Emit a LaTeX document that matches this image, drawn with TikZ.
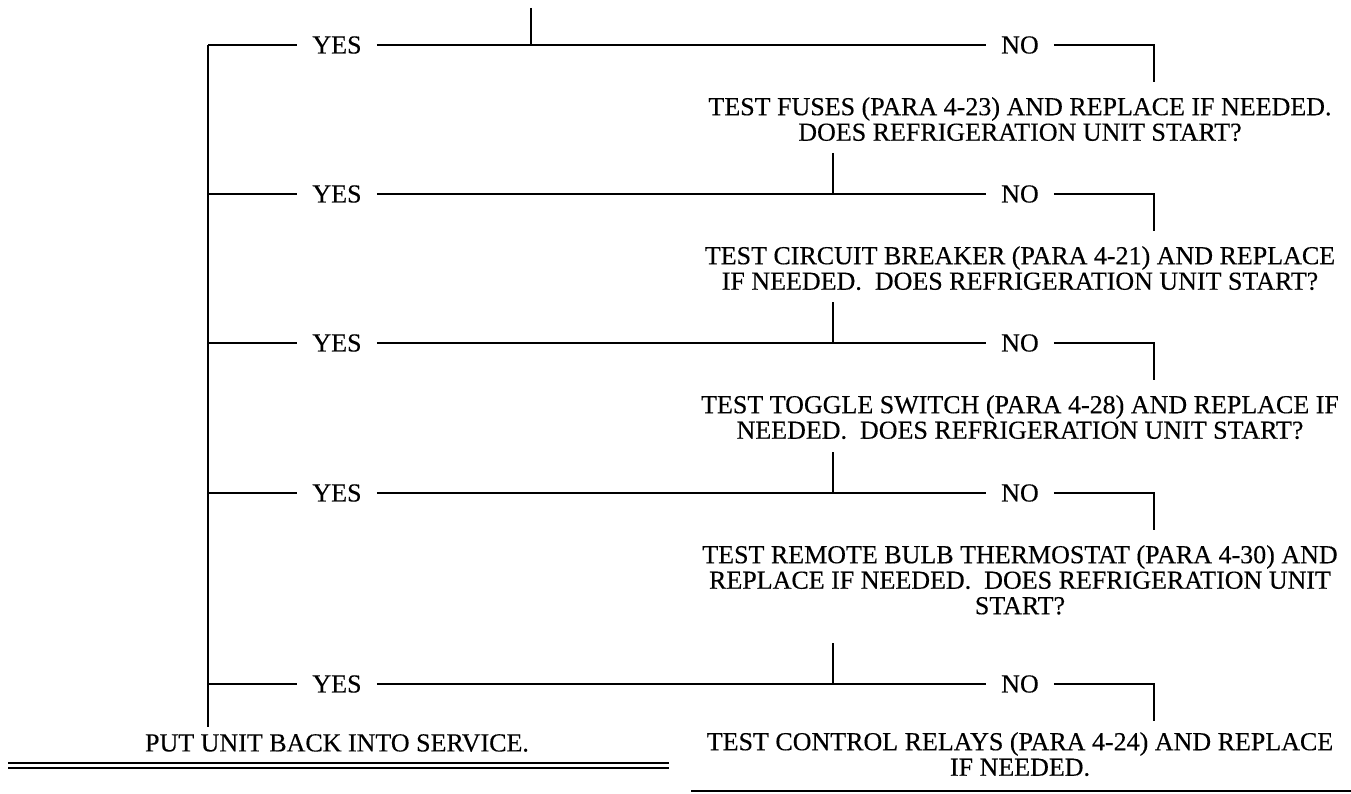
\documentclass[tikz,border=0pt]{standalone}
\usepackage{fontspec}
\setmainfont{Liberation Serif}[FakeBold=0.3]
\usetikzlibrary{positioning}
\newcommand{\chartfont}{\fontsize{26}{25.5}\selectfont}
\tikzset{
  flow/.style={line width=2.4pt,black},
  ans/.style={inner xsep=15pt,inner ysep=0pt,font=\chartfont},
  tbox/.style={align=center,inner sep=0pt,anchor=north,font=\chartfont},
  rule/.style={line width=1.6pt,black}
}

\begin{document}
\begin{tikzpicture}[x=1pt,y=-1pt]
\useasboundingbox (0,0) rectangle (1351,794);
\foreach \r/\y in {1/45,2/194,3/343,4/493,5/684}{
  \coordinate (rail\r) at (208,\y);
  \coordinate (drop\r) at (1154,\y+37);
  \node[ans] (yes\r) at (337,\y) {YES};
  \node[ans] (no\r) at (1020,\y) {NO};
}
\coordinate (stub1) at (531,8);
\coordinate (stub2) at (833,153);
\coordinate (stub3) at (833,302);
\coordinate (stub4) at (833,452);
\coordinate (stub5) at (833,643);
\foreach \r in {1,...,5}{
  \draw[flow] (rail\r) -- (yes\r) -- (no\r) -| (drop\r);
  \draw[flow] (stub\r) -- (stub\r |- yes\r);
}
\node[tbox] (fuse) at (1020,97) {TEST FUSES (PARA 4-23) AND REPLACE IF NEEDED.\\
  DOES REFRIGERATION UNIT START?};
\node[tbox] (breaker) at (1020,246) {TEST CIRCUIT BREAKER (PARA 4-21) AND REPLACE\\
  IF NEEDED.~ DOES REFRIGERATION UNIT START?};
\node[tbox] (toggle) at (1020,395) {TEST TOGGLE SWITCH (PARA 4-28) AND REPLACE IF\\
  NEEDED.~ DOES REFRIGERATION UNIT START?};
\node[tbox] (bulb) at (1020,545) {TEST REMOTE BULB THERMOSTAT (PARA 4-30) AND\\
  REPLACE IF NEEDED.~ DOES REFRIGERATION UNIT\\ START?};
\node[tbox] (relay) at (1020,732) {TEST CONTROL RELAYS (PARA 4-24) AND REPLACE\\
  IF NEEDED.};
\node[tbox] (put) at (337,734) {PUT UNIT BACK INTO SERVICE.};
\coordinate (railend) at (208,727);
\draw[flow] (rail1) -- (railend);
\draw[rule] (8,763) -- (669,763);
\draw[rule] (8,768) -- (669,768);
\draw[rule] (691,791) -- (1351,791);
\end{tikzpicture}
\end{document}
